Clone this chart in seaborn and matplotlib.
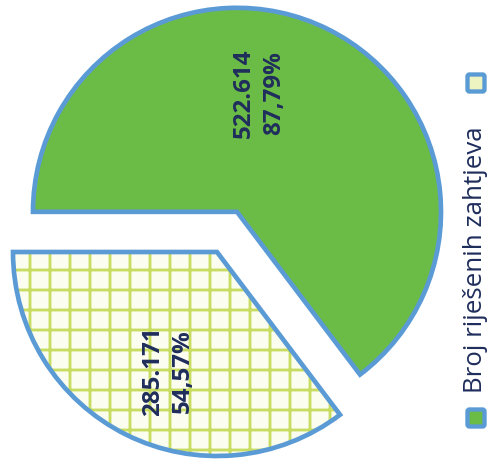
import numpy as np
import matplotlib
matplotlib.use('Agg')
import matplotlib.pyplot as plt
import seaborn as sns
from matplotlib.patches import FancyBboxPatch

sns.set_theme(style='white')
plt.rcParams['font.family'] = ['Open Sans', 'DejaVu Sans']
plt.rcParams['hatch.linewidth'] = 1.7

# data
values = [522.614, 285.171]
shares = [87.79, 54.57]
legend_label = 'Broj riješenih zahtjeva'

green = '#6BBC46'
edge_blue = '#5B9BD5'
hatch_green = '#C9DC62'
hatch_bg = '#FBFDEE'
navy = '#1F2D5C'

W, H, DPI = 493, 459, 120
fig = plt.figure(figsize=(W / DPI, H / DPI), dpi=DPI)
ax = fig.add_axes([0, 0, 1, 1])

radius = 204
center = (217, 207)
explode = [0.22 * radius, 0]

# fill + grid hatch (hatch takes the edge colour, so the outline is a second pass)
wedges, _ = ax.pie(values, colors=[green, hatch_bg], hatch=['', '+'], radius=radius,
                   center=center, explode=explode, startangle=180, counterclock=False,
                   wedgeprops=dict(edgecolor=hatch_green, linewidth=0), frame=True)
ax.pie(values, colors=['none', 'none'], radius=radius, center=center, explode=explode,
       startangle=180, counterclock=False,
       wedgeprops=dict(edgecolor=edge_blue, linewidth=2.8, fill=False), frame=True)

# value labels, rotated like the rest of the chart
angle_shift = [15.8, 4.0]
label_dist = [0.59, 0.63]
for w, v, s, da, d in zip(wedges, values, shares, angle_shift, label_dist):
    th = np.deg2rad((w.theta1 + w.theta2) / 2 + da)
    cx, cy = w.center
    txt = f'{v:.3f}\n' + f'{s:.2f}%'.replace('.', ',')
    ax.text(cx + d * w.r * np.cos(th), cy + d * w.r * np.sin(th), txt, rotation=90,
            ha='center', va='center', fontsize=14.5, fontweight='bold', color=navy,
            linespacing=1.35, multialignment='center')

# vertical legend
ax.text(476, 199, legend_label, rotation=90, ha='center', va='center',
        fontsize=15.5, color=navy)
for yc, fc in [(41, green), (376, '#EEF3C2')]:
    ax.add_patch(FancyBboxPatch((476 - 8.5, yc - 8.5), 17, 17, boxstyle='round,pad=0,rounding_size=2',
                                facecolor=fc, edgecolor=edge_blue, linewidth=2.6))

ax.set_xlim(0, W)
ax.set_ylim(0, H)
ax.set_aspect('equal')
ax.axis('off')

fig.savefig('out.png', dpi=DPI)
